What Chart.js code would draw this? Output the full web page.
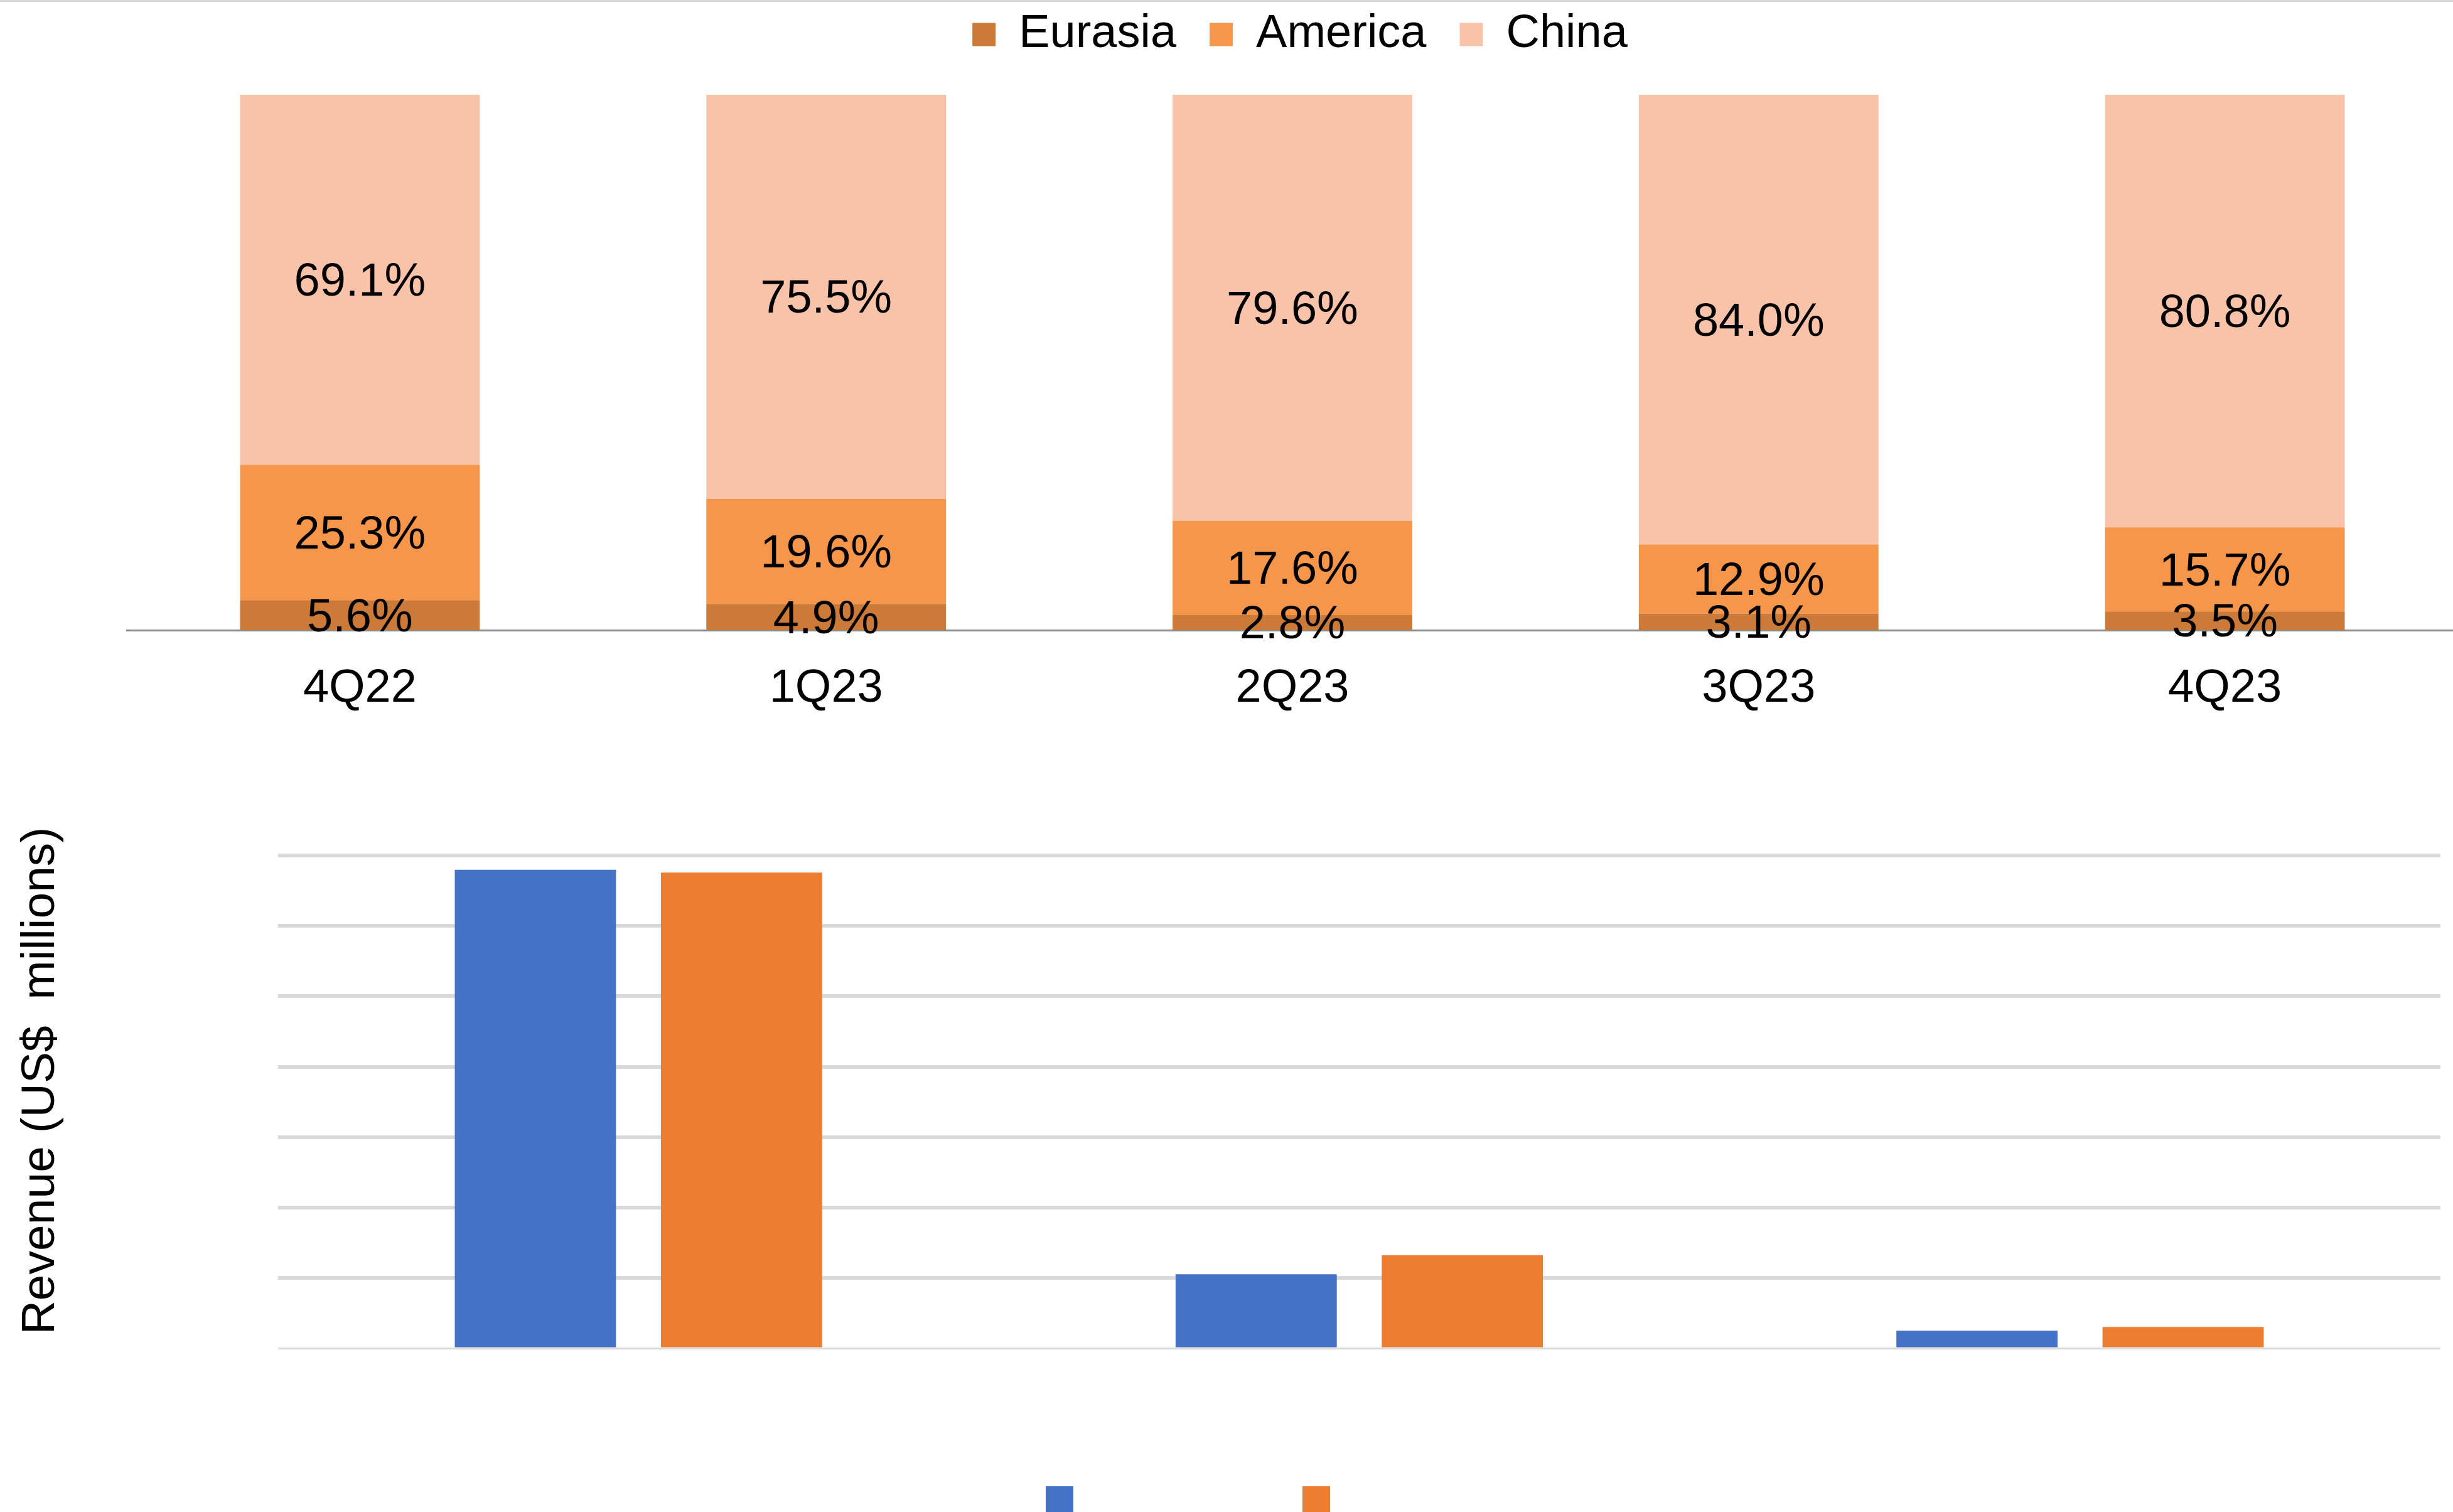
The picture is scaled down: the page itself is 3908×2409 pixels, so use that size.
<!DOCTYPE html>
<html>
<head>
<meta charset="utf-8">
<script src="https://cdn.jsdelivr.net/npm/chart.js@4.4.1/dist/chart.umd.min.js"></script>
<style>
  html, body { margin: 0; padding: 0; background: #fff; overflow: hidden; width: 3908px; height: 2409px; }
  #topRule { position: absolute; left: 0; top: 0; width: 3908px; height: 3px; background: #D9D9D9; }
  #shareCanvas { position: absolute; left: 0; top: 0; }
  #revenueCanvas { position: absolute; left: 0; top: 1180px; }
</style>
</head>
<body>
<div id="topRule"></div>
<canvas id="shareCanvas" width="3916" height="1180"></canvas>
<canvas id="revenueCanvas" width="3908" height="1229"></canvas>
<script>
// ---- Data ----
const quarters = ['4Q22', '1Q23', '2Q23', '3Q23', '4Q23'];
const eurasiaShare = [5.6, 4.9, 2.8, 3.1, 3.5];
const americaShare = [25.3, 19.6, 17.6, 12.9, 15.7];
const chinaShare = [69.1, 75.5, 79.6, 84.0, 80.8];
const shareSeriesNames = ['Eurasia', 'America', 'China'];

const revenueCategories = ['', '', ''];
const revenueSeriesA = [680, 105, 25];
const revenueSeriesB = [676, 132, 30];
const revenueSeriesNames = ['', ''];
const revenueAxisTitle = 'Revenue (US$  millions)';

// ---- Styling ----
Chart.defaults.font.family = "'Liberation Sans', Arial, Helvetica, sans-serif";
Chart.defaults.color = '#000000';

const BIG = 74;

function legendShift(dx, dy, extra) {
  return {
    id: 'legendShift',
    afterLayout(chart) {
      const lg = chart.legend;
      if (!lg) return;
      lg.left += dx; lg.right += dx;
      lg.top += dy; lg.bottom += dy + (extra || 0);
    }
  };
}

const segmentLabels = {
  id: 'segmentLabels',
  afterDatasetsDraw(chart) {
    const ctx = chart.ctx;
    ctx.save();
    ctx.font = BIG + "px 'Liberation Sans', Arial, sans-serif";
    ctx.fillStyle = '#000000';
    ctx.textAlign = 'center';
    ctx.textBaseline = 'middle';
    chart.data.datasets.forEach((ds, i) => {
      const meta = chart.getDatasetMeta(i);
      meta.data.forEach((bar, j) => {
        const v = ds.data[j];
        const y = (bar.y + bar.base) / 2 + 5;
        ctx.fillText(v.toFixed(1) + '%', bar.x, y);
      });
    });
    ctx.restore();
  }
};

// ---- Top: 100% stacked share chart ----
new Chart(document.getElementById('shareCanvas'), {
  type: 'bar',
  data: {
    labels: quarters,
    datasets: [
      { label: shareSeriesNames[0], data: eurasiaShare, backgroundColor: '#CC7A38', borderWidth: 0 },
      { label: shareSeriesNames[1], data: americaShare, backgroundColor: '#F5964A', borderWidth: 0 },
      { label: shareSeriesNames[2], data: chinaShare, backgroundColor: '#F9C3AA', borderWidth: 0 }
    ]
  },
  options: {
    responsive: false,
    animation: false,
    layout: { padding: { left: 202, right: 0, top: 14, bottom: 0 } },
    datasets: { bar: { categoryPercentage: 1.0, barPercentage: 0.514 } },
    scales: {
      x: {
        stacked: true,
        grid: { display: false, drawTicks: false },
        border: { display: true, color: '#8C8C8C', width: 3 },
        ticks: { font: { size: BIG }, color: '#000000', padding: 49 },
        afterFit(axis) { axis.height = 176; }
      },
      y: {
        stacked: true,
        display: false,
        min: 0,
        max: 100
      }
    },
    plugins: {
      legend: {
        position: 'top',
        fullSize: false,
        labels: {
          font: { size: BIG },
          color: '#000000',
          boxWidth: 37,
          boxHeight: 37,
          padding: 53
        }
      },
      tooltip: { enabled: false }
    }
  },
  plugins: [segmentLabels, legendShift(12, -49, 0)]
});

// ---- Bottom: grouped revenue chart ----
new Chart(document.getElementById('revenueCanvas'), {
  type: 'bar',
  data: {
    labels: revenueCategories,
    datasets: [
      { label: revenueSeriesNames[0], data: revenueSeriesA, backgroundColor: '#4472C4', borderWidth: 0 },
      { label: revenueSeriesNames[1], data: revenueSeriesB, backgroundColor: '#ED7D31', borderWidth: 0 }
    ]
  },
  options: {
    responsive: false,
    animation: false,
    layout: { padding: { left: 0, right: 20, top: 116, bottom: 0 } },
    datasets: { bar: { categoryPercentage: 0.572, barPercentage: 0.782 } },
    scales: {
      x: { display: false },
      y: {
        min: 0,
        max: 760,
        ticks: { display: false, stepSize: 100, includeBounds: false },
        grid: {
          color: '#D9D9D9',
          lineWidth: (c) => (c.tick && c.tick.value === 0 ? 3 : 6),
          drawTicks: false
        },
        border: { display: false },
        title: {
          display: true,
          text: revenueAxisTitle,
          font: { size: 75 },
          color: '#000000',
          padding: { top: 20, bottom: 0 }
        },
        afterFit(axis) { axis.width = 443; }
      }
    },
    plugins: {
      legend: {
        position: 'bottom',
        align: 'start',
        fullSize: false,
        maxHeight: 261,
        labels: {
          font: { size: 44 },
          boxWidth: 44,
          boxHeight: 44,
          padding: 343
        }
      },
      tooltip: { enabled: false }
    }
  },
  plugins: [legendShift(880, -123, 400)]
});
</script>
</body>
</html>
